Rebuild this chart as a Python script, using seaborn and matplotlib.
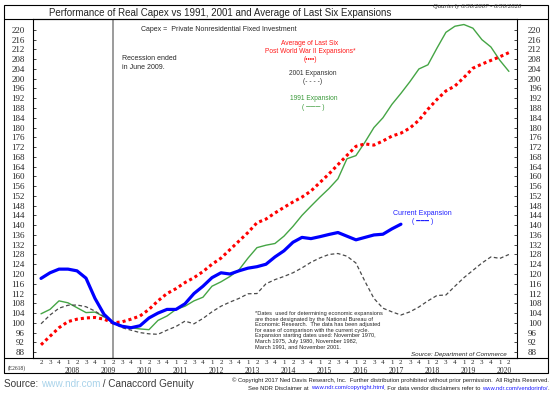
import pandas as pd
import matplotlib.pyplot as plt
import seaborn as sns
from matplotlib import font_manager
from matplotlib.lines import Line2D
from matplotlib.patches import Rectangle

# quarterly index: 0 = Q2 2007 ... 52 = Q2 2020
current = [118.2, 120.5, 122, 122, 121.3, 118.3, 110, 103.5, 100, 98.6,
           98, 98.8, 102, 104, 105.5, 105.5, 107.8, 112, 115, 118.5,
           120.5, 120, 121.3, 122.4, 123, 124, 127, 129.5, 133, 135,
           134.5, 135.3, 136.2, 137, 135.5, 134, 135, 136, 136.3, 138.5,
           140.4]
avg_six = [91, 94.5, 98, 100.5, 101.5, 102, 102.2, 101.5, 100, 100.4,
           101.5, 102.8, 105.5, 109, 112, 114, 116.5, 118.5, 121, 124,
           126.5, 130, 133.5, 137, 141, 142.5, 145, 147.3, 149.5, 151.5,
           154, 157.5, 161, 164.8, 168.6, 172.3, 173.3, 172.8, 174.5, 176.5,
           177.7, 179.8, 183, 187.5, 191.5, 195, 197, 200.5, 204.3, 206,
           207.5, 209, 210.7]
exp_1991 = [103.7, 105.5, 109, 108.2, 106.2, 104.2, 104.4, 102.5, 100, 98.8,
            98, 97.5, 97.2, 101, 102.8, 105.5, 106.8, 109, 110.5, 115,
            116.8, 119, 121.7, 126.5, 130.8, 131.8, 132.5, 135.5, 139.5, 144,
            147.8, 151.5, 155, 159, 167.2, 168.5, 174, 180, 184, 189.5,
            194, 198.8, 204, 205.7, 212.5, 219, 221.5, 222.2, 220.7, 216,
            213, 207.5, 203]
exp_2001 = [99.6, 103.2, 106, 107.2, 107.3, 106.6, 104.8, 102.5, 100, 98,
            97, 96, 95.5, 95.3, 97, 98.5, 100.7, 99.6, 101.8, 104.5,
            106.8, 108.5, 110, 111.9, 112, 116, 117.7, 119, 120.5, 122.5,
            124.8, 126.6, 128, 128.4, 127.3, 124.5, 117, 110, 106, 104.5,
            103.2, 104.5, 106.5, 109, 111.2, 111.4, 115, 118.5, 121.5, 124.5,
            127, 126.4, 128]
years = list(range(2008, 2021))
y_ticks = list(range(88, 221, 4))

n = len(avg_six)
df = pd.DataFrame({'q': range(n), 'avg': avg_six, 'e1991': exp_1991, 'e2001': exp_2001})
df_cur = pd.DataFrame({'q': range(len(current)), 'cur': current})

sns.set_style("white")
have = {f.name for f in font_manager.fontManager.ttflist}
sans = 'Liberation Sans' if 'Liberation Sans' in have else 'DejaVu Sans'
narrow = 'Liberation Sans Narrow' if 'Liberation Sans Narrow' in have else sans
serif = 'Liberation Serif' if 'Liberation Serif' in have else 'DejaVu Serif'
plt.rcParams['font.family'] = [sans, 'DejaVu Sans']

W, H = 552, 395
fig = plt.figure(figsize=(W / 100, H / 100), dpi=100)
ax = fig.add_axes([33 / W, 1 - 357.5 / H, 484 / W, 338.1 / H])

sns.lineplot(x='q', y='e1991', data=df, ax=ax, color='#45a545', lw=1.0)
sns.lineplot(x='q', y='e2001', data=df, ax=ax, color='#4a4a4a', lw=0.9,
             linestyle=(0, (3, 2)))
sns.lineplot(x='q', y='avg', data=df, ax=ax, color='#ff0000', lw=2.2,
             linestyle=(0, (1, 1)))
sns.lineplot(x='q', y='cur', data=df_cur, ax=ax, color='#0000ff', lw=2.3)
ax.axvline(8, color='#8a8a8a', lw=1.2, zorder=0)

ax.set_xlim(-0.89, 52.9)
ax.set_ylim(85.8, 224.3)
ax.set_xlabel('')
ax.set_ylabel('')
for s in ax.spines.values():
    s.set_linewidth(0.8)
    s.set_color('black')

ax.set_yticks(y_ticks)
ax.set_yticklabels([str(v) for v in y_ticks], family=serif, fontsize=6.5)
ax.tick_params(axis='y', direction='in', length=2.5, width=0.6, left=True, pad=6)
ax2 = ax.twinx()
ax2.set_ylim(ax.get_ylim())
ax2.set_yticks(y_ticks)
ax2.set_yticklabels([str(v) for v in y_ticks], family=serif, fontsize=6.5)
ax2.tick_params(axis='y', direction='in', length=2.5, width=0.6, right=True, pad=8)
for s in ax2.spines.values():
    s.set_visible(False)

qlabels = [str((i + 1) % 4 + 1) for i in range(n)]
ax.set_xticks(range(n))
ax.set_xticklabels(qlabels, family=serif, fontsize=5)
ax.set_xticks([3 + 4 * k + 0.5 for k in range(len(years))], minor=True)
ax.set_xticklabels([str(y) for y in years], minor=True, family=serif, fontsize=5.5)
ax.tick_params(axis='x', which='major', length=0, pad=1.5)
ax.tick_params(axis='x', which='minor', length=0, pad=7)

# annotations
ax.text(11.1, 220, 'Capex =  Private Nonresidential Fixed Investment',
        fontsize=5, va='center', ha='left')
ax.text(9.0, 206.3, 'Recession ended\nin June 2009.', fontsize=5,
        va='center', ha='left', linespacing=1.35)
ax.text(29.9, 211.1, 'Average of Last Six\nPost World War II Expansions*\n(\u2022\u2022\u2022\u2022)',
        fontsize=4.8, color='#ff1a1a', ha='center', va='center', linespacing=1.25)
ax.text(30.2, 200.5, '2001 Expansion\n(- - - -)', fontsize=4.8, color='#333333',
        ha='center', va='center', linespacing=1.3)
ax.text(30.3, 190, '1991 Expansion\n( \u2500\u2500\u2500 )', fontsize=4.8, color='#3a9a3a',
        ha='center', va='center', linespacing=1.3)
ax.text(42.4, 143.2, 'Current Expansion\n( \u2501\u2501\u2501 )', fontsize=5, color='#2020ff',
        ha='center', va='center', linespacing=1.3)
note = ("*Dates  used for determining economic expansions\n"
        "are those designated by the National Bureau of\n"
        "Economic Research.  The data has been adjusted\n"
        "for ease of comparison with the current cycle.\n"
        "Expansion starting dates used: November 1970,\n"
        "March 1975, July 1980, November 1982,\n"
        "March 1991, and November 2001.")
ax.text(23.8, 104.8, note, fontsize=4.1, va='top', ha='left', linespacing=1.12)
ax.text(51.8, 87.2, 'Source: Department of Commerce', fontsize=4.5, style='italic',
        ha='right', va='center')

# frame around the chart
fig.patches.append(Rectangle((4 / W, 1 - 373 / H), 544 / W, 368 / H, fill=False,
                             lw=0.8, ec='black', transform=fig.transFigure))
fig.lines.append(Line2D([4 / W, 548 / W], [1 - 19.4 / H] * 2, lw=0.8, color='black',
                        transform=fig.transFigure))
fig.lines.append(Line2D([4 / W, 548 / W], [1 - 357.5 / H] * 2, lw=0.8, color='black',
                        transform=fig.transFigure))

fig.text(220 / W, 1 - 12.5 / H,
         'Performance of Real Capex vs 1991, 2001 and Average of Last Six Expansions',
         fontsize=7, ha='center', va='center')
fig.text(521 / W, 1 - 6.5 / H, 'Quarterly 6/30/2007 - 6/30/2020', family=serif,
         style='italic', fontsize=4.8, ha='right', va='center', color='#333333')
fig.text(17 / W, 1 - 368 / H, '(E2618)', family=serif, fontsize=4, ha='center', va='center')


def put_row(x, y, parts, ha='left', **kw):
    r = fig.canvas.get_renderer()
    texts = [fig.text(0, y, s, color=c, va='center', **kw) for s, c in parts]
    widths = [t.get_window_extent(r).width for t in texts]
    x0 = x if ha == 'left' else x - sum(widths)
    for t, w in zip(texts, widths):
        t.set_x(x0 / W)
        x0 += w


put_row(4, 1 - 384 / H, [('Source: ', '#3a3a3a'), ('www.ndr.com', '#a9d3ea'),
                         (' / Canaccord Genuity', '#3a3a3a')], family=[narrow, sans],
        fontsize=7.2)
put_row(549, 1 - 380 / H, [('\u00a9 Copyright 2017 Ned Davis Research, Inc.  Further distribution '
                            'prohibited without prior permission.  All Rights Reserved.', '#222222')],
        ha='right', fontsize=4.2)
put_row(549, 1 - 388 / H, [('See NDR Disclaimer at ', '#222222'),
                           ('www.ndr.com/copyright.html', '#1a1aff'),
                           ('. For data vendor disclaimers refer to ', '#222222'),
                           ('www.ndr.com/vendorinfo/', '#1a1aff'), ('.', '#222222')],
        ha='right', fontsize=4.2)

fig.savefig('out.png', dpi=100)
